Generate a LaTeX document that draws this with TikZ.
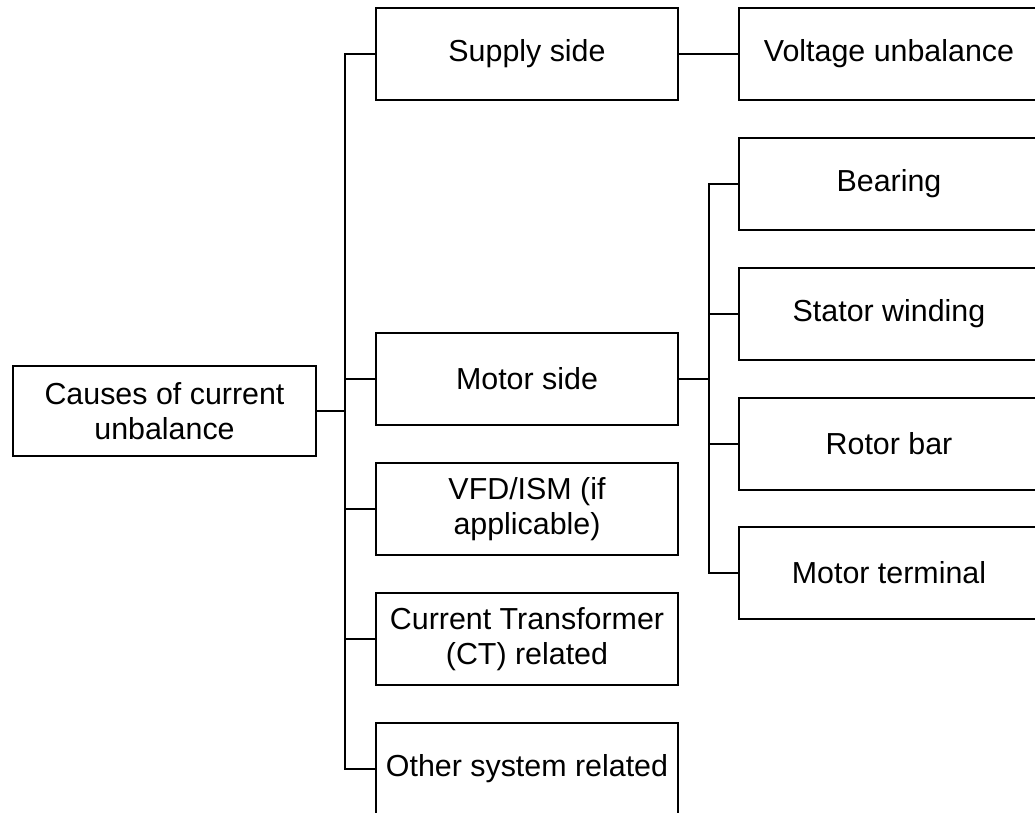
\documentclass[tikz,border=0pt]{standalone}
\usepackage{fontspec}
\setmainfont{Liberation Sans}

\tikzset{
  causebox/.style={draw, line width=1.1pt, minimum width=6.04cm, minimum height=1.84cm,
    align=center, inner sep=0pt, font=\fontsize{17.3pt}{19.9pt}\selectfont},
  subbox/.style={causebox, minimum width=6cm},
  wire/.style={line width=1.1pt}
}

\begin{document}
\begin{tikzpicture}[x=0.02cm, y=-0.02cm]
        \useasboundingbox (0,0) rectangle (1035,813);
        % Boxes:
        \node[causebox, minimum width=6.06cm, minimum height=1.8cm] (root) at (164.5,411) {Causes of current\\unbalance};
        \node[causebox] (supply) at (527,54) {Supply side};
        \node[causebox] (motor) at (527,379) {Motor side};
        \node[causebox] (vfd) at (527,509) {VFD/ISM (if\\applicable)};
        \node[causebox] (ct) at (527,639) {Current Transformer\\(CT) related};
        \node[causebox] (other) at (527,769) {Other system related};
        \node[subbox] (voltage) at (889,54) {Voltage unbalance};
        \node[subbox] (bearing) at (889,184) {Bearing};
        \node[subbox] (stator) at (889,314) {Stator winding};
        \node[subbox] (rotor) at (889,444) {Rotor bar};
        \node[subbox] (terminal) at (889,573) {Motor terminal};
        % Wires:
        \coordinate (trunk) at (345,411);
        \coordinate (subtrunk) at (709,379);
        \draw[wire] (root.east) -- (trunk);
        \foreach \n in {supply, motor, vfd, ct, other}
            \draw[wire] (trunk) |- (\n.west);
        \draw[wire] (supply.east) -- (voltage.west);
        \draw[wire] (motor.east) -- (subtrunk);
        \foreach \n in {bearing, stator, rotor, terminal}
            \draw[wire] (subtrunk) |- (\n.west);
    \end{tikzpicture}
\end{document}
